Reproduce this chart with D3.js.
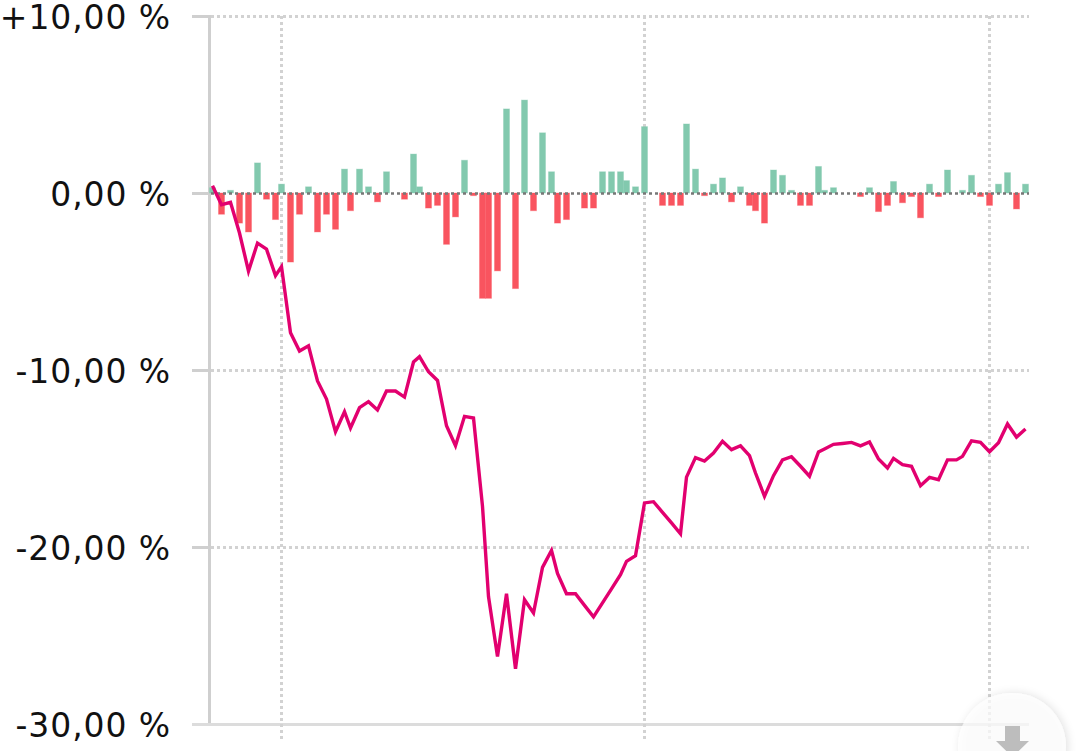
<!DOCTYPE html>
<html>
<head>
<meta charset="utf-8">
<title>Chart</title>
<script src="https://cdnjs.cloudflare.com/ajax/libs/d3/7.8.5/d3.min.js"></script>
<style>
    html, body { margin: 0; padding: 0; background: #fff; overflow: hidden; }
    svg { display: block; font-family: Verdana, "DejaVu Sans", sans-serif; }
</style>
</head>
<body>
<div id="chart"></div>
<script>
const yTicks = [10, 0, -10, -20, -30];
const yTickLabels = ['+10,00 %', '0,00 %', '-10,00 %', '-20,00 %', '-30,00 %'];
const xTickIndexes = [8, 50, 90];

// daily change, one entry per trading day
const dailyChange = [
    0.3, -1.2, 0.15, -1.7, -2.2, 1.7, -0.35, -1.5, 0.5, -3.9,
    -1.2, 0.35, -2.2, -1.2, -2.05, 1.35, -1.0, 1.35, 0.35, -0.5,
    1.2, 0, -0.35, 2.2, 0.35, -0.85, -0.7, -2.9, -1.35, 1.85,
    -0.15, -5.95, -5.95, -4.4, 4.75, -5.4, 5.25, -1.0, 3.4, 1.2,
    -1.7, -1.5, 0, -0.85, -0.85, 1.2, 1.2, 1.2, 0.7, 0.35,
    3.75, 0, -0.7, -0.7, -0.7, 3.9, 1.35, -0.15, 0.5, 0.85,
    -0.5, 0.35, -0.7, -1.0, -1.7, 1.3, 1.0, 0.15, -0.7, -0.7,
    1.5, 0.15, 0.3, 0, 0, -0.2, 0.3, -1.05, -0.7, 0.65,
    -0.55, -0.2, -1.4, 0.5, -0.2, 1.3, 0, 0.15, 1.0, -0.2,
    -0.7, 0.5, 1.15, -0.9, 0.5
];

// cumulative performance
const cumulative = [
    0.41, -0.66, -0.53, -2.26, -4.41, -2.83, -3.17, -4.67, -4.16, -7.89,
    -8.93, -8.63, -10.62, -11.64, -13.49, -12.36, -13.28, -12.13, -11.79, -12.26,
    -11.19, -11.19, -11.53, -9.55, -9.25, -10.1, -10.59, -13.15, -14.28, -12.62,
    -12.71, -17.7, -22.8, -26.18, -22.64, -26.88, -22.98, -23.73, -21.15, -20.19,
    -21.5, -22.64, -22.64, -23.3, -23.95, -23.16, -22.37, -21.56, -20.81, -20.49,
    -17.51, -17.44, -18.04, -18.64, -19.25, -16.05, -14.95, -15.14, -14.69, -14.03,
    -14.5, -14.28, -14.84, -15.82, -17.14, -15.97, -15.08, -14.9, -15.44, -16.0,
    -14.63, -14.46, -14.2, -14.15, -14.09, -14.29, -14.07, -15.03, -15.54, -14.99,
    -15.35, -15.44, -16.54, -16.07, -16.2, -15.08, -15.08, -14.88, -14.0, -14.09,
    -14.62, -14.11, -13.05, -13.79, -13.33
];

const width = 1081, height = 751;
const axisColor = '#cfcfcf';

const svg = d3.select('#chart').append('svg')
    .attr('width', width)
    .attr('height', height);

const y = d3.scaleLinear().domain([10, -30]).range([16, 724]);
const xRaw = d3.scaleLinear().domain([0, dailyChange.length - 1]).range([213.94, 1024.12]);

// the original snaps every point to its 3px raster
const x = i => 212.5 + 3 * Math.round((xRaw(i) - 212.5) / 3);

// Horizontal grid, ticks and labels
const yAxis = svg.append('g');

yAxis.selectAll('.grid-h')
    .data(yTicks.filter(d => d !== 0 && d !== -30))
    .enter().append('line')
    .attr('class', 'grid-h')
    .attr('x1', 211).attr('x2', 1029)
    .attr('y1', d => y(d) + 0.5).attr('y2', d => y(d) + 0.5)
    .attr('stroke', '#d2d2d2')
    .attr('stroke-width', 3)
    .attr('stroke-dasharray', '3,3');

// Vertical grid
svg.append('g').selectAll('line')
    .data(xTickIndexes)
    .enter().append('line')
    .attr('x1', d => x(d)).attr('x2', d => x(d))
    .attr('y1', y(10)).attr('y2', 739)
    .attr('stroke', '#d2d2d2')
    .attr('stroke-width', 3)
    .attr('stroke-dasharray', '3,3');

yAxis.selectAll('.tick-h')
    .data(yTicks)
    .enter().append('line')
    .attr('class', 'tick-h')
    .attr('x1', 192).attr('x2', 210)
    .attr('y1', d => y(d) + 0.5).attr('y2', d => y(d) + 0.5)
    .attr('stroke', axisColor)
    .attr('stroke-width', 3);

yAxis.append('line')
    .attr('x1', 209.5).attr('x2', 209.5)
    .attr('y1', y(10) - 1).attr('y2', y(-30) + 2)
    .attr('stroke', axisColor)
    .attr('stroke-width', 3);

yAxis.append('line')
    .attr('x1', 192).attr('x2', 1029)
    .attr('y1', y(-30) + 0.5).attr('y2', y(-30) + 0.5)
    .attr('stroke', '#dcdcdc')
    .attr('stroke-width', 3);

// Verdana is not available, letter spacing makes up for the narrower DejaVu
yAxis.selectAll('text')
    .data(yTicks)
    .enter().append('text')
    .attr('x', 171)
    .attr('y', d => y(d) + 13)
    .attr('text-anchor', 'end')
    .attr('font-size', 33)
    .attr('letter-spacing', 0.9)
    .attr('fill', '#111')
    .text((d, i) => yTickLabels[i]);

// Bars
svg.append('g').selectAll('rect')
    .data(dailyChange)
    .enter().append('rect')
    .attr('x', (d, i) => x(i) - 3)
    .attr('y', d => d > 0 ? y(d) : y(0))
    .attr('width', 6)
    .attr('height', d => Math.abs(y(d) - y(0)))
    .attr('fill', d => d > 0 ? '#82c9ae' : '#f9545f')
    .attr('stroke', d => d === 0 ? 'none' : (d > 0 ? '#82c9ae' : '#f9545f'))
    .attr('stroke-opacity', 0.35)
    .attr('stroke-width', 1);

// Zero line
svg.append('line')
    .attr('x1', 211).attr('x2', 1029)
    .attr('y1', y(0) + 0.5).attr('y2', y(0) + 0.5)
    .attr('stroke', '#777777')
    .attr('stroke-width', 2.5)
    .attr('stroke-dasharray', '3,3');

// Cumulative line
const line = d3.line()
    .x((d, i) => x(i))
    .y(d => y(d));

svg.append('path')
    .datum(cumulative)
    .attr('d', line)
    .attr('fill', 'none')
    .attr('stroke', '#e2006f')
    .attr('stroke-width', 3.4)
    .attr('stroke-linejoin', 'miter');

// Download button in the corner
const defs = svg.append('defs');
defs.append('filter')
    .attr('id', 'buttonShadow')
    .attr('x', '-30%').attr('y', '-30%')
    .attr('width', '160%').attr('height', '160%')
    .append('feDropShadow')
    .attr('dx', 2).attr('dy', 0)
    .attr('stdDeviation', 4)
    .attr('flood-color', '#000')
    .attr('flood-opacity', 0.16);

const button = svg.append('g');

button.append('circle')
    .attr('cx', 1012).attr('cy', 747).attr('r', 54)
    .attr('fill', '#fff')
    .attr('fill-opacity', 0.72)
    .attr('filter', 'url(#buttonShadow)');

button.append('path')
    .attr('d', d3.line()([[1005, 726], [1020, 726], [1020, 741], [1029, 741], [1012.5, 757], [996, 741], [1005, 741]]) + 'Z')
    .attr('fill', '#bdbdbd');
</script>
</body>
</html>
